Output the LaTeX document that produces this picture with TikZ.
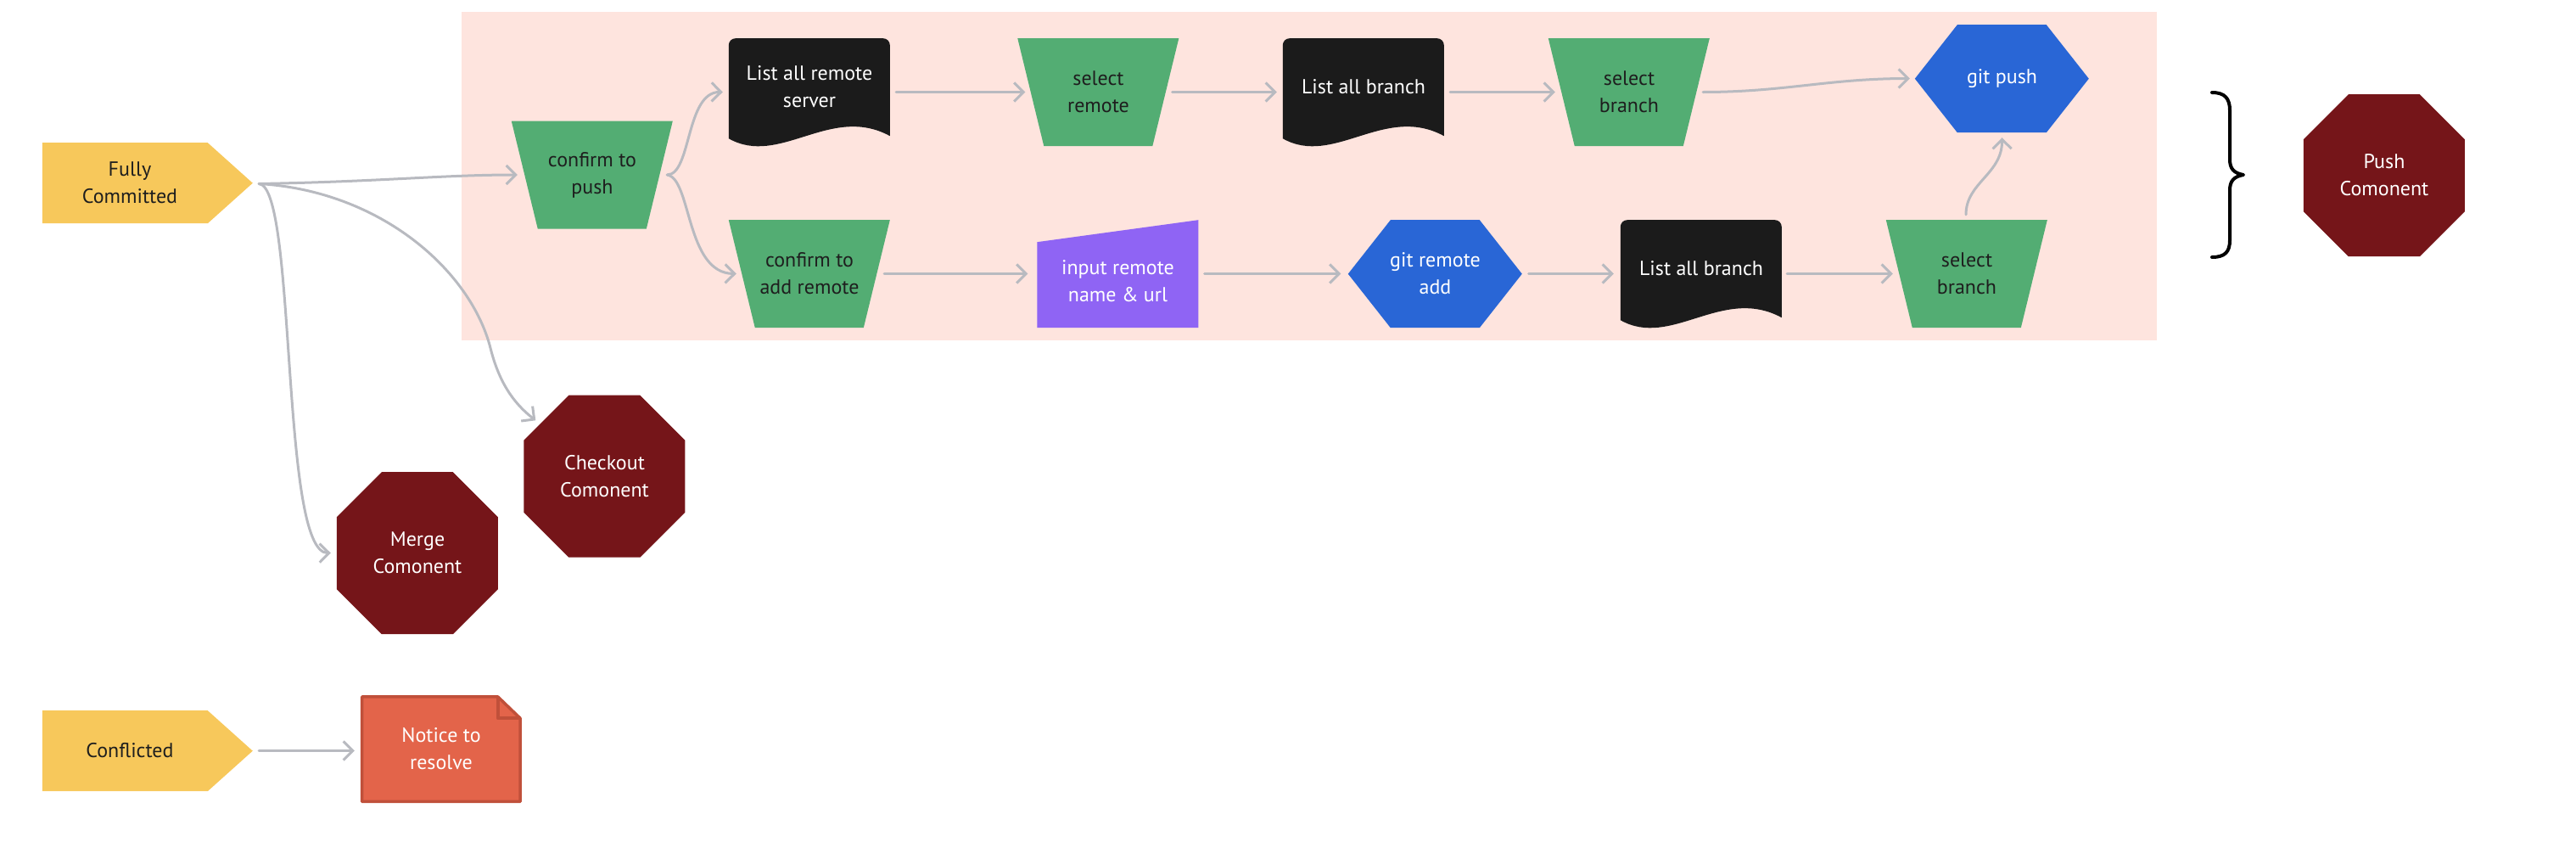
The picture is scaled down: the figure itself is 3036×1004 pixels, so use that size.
\documentclass[tikz,border=0pt]{standalone}
\usepackage{fontspec}
\setmainfont{PT Sans}
\usetikzlibrary{arrows.meta,backgrounds}
\definecolor{cyellow}{HTML}{F7C85B}
\definecolor{cgreen}{HTML}{53AD73}
\definecolor{cblack}{HTML}{1B1B1B}
\definecolor{cblue}{HTML}{2966D6}
\definecolor{cpurple}{HTML}{8F64F4}
\definecolor{cred}{HTML}{751519}
\definecolor{corange}{HTML}{E3644A}
\definecolor{corangeb}{HTML}{C0503A}
\definecolor{cpink}{HTML}{FEE4DE}
\definecolor{cgray}{HTML}{B8BAC0}
\definecolor{ctext}{HTML}{1E1E1E}
\tikzset{
  base/.style={inner sep=0pt, align=center, font=\fontsize{24}{32}\selectfont},
  pentbox/.style={base, text=ctext, minimum width=290pt, minimum height=95pt},
  trapbox/.style={base, text=ctext, minimum width=190pt, minimum height=127pt},
  docbox/.style={base, text=white, minimum width=190pt, minimum height=139pt},
  hexbox/.style={base, text=white, minimum width=205pt, minimum height=127pt},
  octbox/.style={base, text=white, minimum width=190pt, minimum height=191pt},
  inbox/.style={base, text=white, minimum width=190pt, minimum height=144pt},
  notebox/.style={base, text=white, minimum width=190pt, minimum height=127pt},
  pentshape/.pic={\begin{scope}[x=1pt,y=1pt]
      \fill[cyellow] (42,0) -- (237,0) -- (290,47.5) -- (237,95) -- (42,95) -- cycle;
    \end{scope}},
  trapshape/.pic={\begin{scope}[x=1pt,y=1pt]
      \fill[cgreen] (0,127) -- (190,127) -- (159,0) -- (31,0) -- cycle;
    \end{scope}},
  docshape/.pic={\begin{scope}[x=1pt,y=1pt]
      \fill[cblack] (0,9) -- (0,119) arc[start angle=180,end angle=90,radius=8]
        -- (182,127) arc[start angle=90,end angle=0,radius=8] -- (190,12)
        .. controls (120,50) and (60,-25) .. (0,9) -- cycle;
    \end{scope}},
  hexshape/.pic={\begin{scope}[x=1pt,y=1pt]
      \fill[cblue] (0,63.5) -- (50,127) -- (155,127) -- (205,63.5) -- (155,0) -- (50,0) -- cycle;
    \end{scope}},
  octshape/.pic={\begin{scope}[x=1pt,y=1pt]
      \fill[cred] (53,191) -- (137,191) -- (190,138) -- (190,53) -- (137,0) -- (53,0) -- (0,53) -- (0,138) -- cycle;
    \end{scope}},
  inshape/.pic={\begin{scope}[x=1pt,y=1pt]
      \fill[cpurple] (0,17) -- (0,118) -- (190,144) -- (190,17) -- cycle;
    \end{scope}},
  noteshape/.pic={\begin{scope}[x=1pt,y=1pt]
      \filldraw[fill=corange, draw=corangeb, line width=3.5pt, line join=round]
        (1.75,1.75) -- (1.75,125.25) -- (162,125.25) -- (188.25,100) -- (188.25,1.75) -- cycle;
      \draw[corangeb, line width=3.5pt, line join=round] (162,125.25) -- (162,100) -- (188.25,100);
    \end{scope}},
  conn/.style={draw=cgray, line width=3pt, line cap=round,
    -{Straight Barb[length=11pt,width=22pt]}},
}
\begin{document}
\begin{tikzpicture}[x=1pt,y=-1pt]
\useasboundingbox (0,0) rectangle (3036,1004);

% nodes
\node[pentbox] (fc) at (153,215.5) {Fully\\Committed};
\node[pentbox] (cf) at (153,884.5) {Conflicted};
\node[trapbox] (cp) at (698,206) {confirm to\\push};
\node[docbox] (lras) at (954,102.5) {List all remote\\server};
\node[trapbox] (car) at (954,322.5) {confirm to\\add remote};
\node[trapbox] (sr) at (1294.5,108.5) {select\\remote};
\node[docbox] (lab1) at (1607,102.5) {List all branch};
\node[trapbox] (sb1) at (1920,108.5) {select\\branch};
\node[hexbox] (gp) at (2359.5,92.5) {git push};
\node[inbox] (iru) at (1317.5,331) {input remote\\name \& url};
\node[hexbox] (gra) at (1691.5,322.5) {git remote\\add};
\node[docbox] (lab2) at (2005,316.5) {List all branch};
\node[trapbox] (sb2) at (2318,322.5) {select\\branch};
\node[octbox] (pc) at (2810,206.5) {Push\\Comonent};
\node[octbox] (mc) at (492,651.5) {Merge\\Comonent};
\node[octbox] (chk) at (712.5,561) {Checkout\\Comonent};
\node[notebox] (ntr) at (520,882.5) {Notice to\\resolve};

% shapes behind the texts
\begin{scope}[on background layer]
\fill[cpink] (544,14) rectangle (2542,401);
\pic at (fc.south west) {pentshape};
\pic at (cf.south west) {pentshape};
\pic at (cp.south west) {trapshape};
\pic at (car.south west) {trapshape};
\pic at (sr.south west) {trapshape};
\pic at (sb1.south west) {trapshape};
\pic at (sb2.south west) {trapshape};
\pic at (lras.south west) {docshape};
\pic at (lab1.south west) {docshape};
\pic at (lab2.south west) {docshape};
\pic at (gp.south west) {hexshape};
\pic at (gra.south west) {hexshape};
\pic at (iru.south west) {inshape};
\pic at (pc.south west) {octshape};
\pic at (mc.south west) {octshape};
\pic at (chk.south west) {octshape};
\pic at (ntr.south west) {noteshape};
\end{scope}

% brace
\draw[line width=4pt, line cap=round, line join=round]
  (2607,109) .. controls (2622,109) and (2628,116) .. (2628,130) -- (2628,188)
  .. controls (2628,199) and (2633,204) .. (2644,206)
  .. controls (2633,208) and (2628,213) .. (2628,224) -- (2628,283)
  .. controls (2628,297) and (2622,303) .. (2607,303);

% connectors
\draw[conn] ([shift={(7,1)}]fc.east) .. controls (450,214) and (520,206) .. ([shift={(7,0)}]cp.west);
\draw[conn] ([shift={(7,1)}]fc.east) .. controls (350,220) and (330,652) .. ([shift={(-7,0)}]mc.west);
\draw[conn] ([shift={(7,1)}]fc.east) .. controls (450,225) and (555,320) .. (578,410)
  .. controls (588,450) and (605,475) .. ([shift={(14,30)}]chk.north west);
\draw[conn] ([shift={(-7,0)}]cp.east) .. controls (815,206) and (808,108) .. ([shift={(-7,6)}]lras.west);
\draw[conn] ([shift={(-7,0)}]cp.east) .. controls (815,210) and (808,322) .. ([shift={(9,0)}]car.west);
\draw[conn] ([shift={(7,6)}]lras.east) -- ([shift={(9,0)}]sr.west);
\draw[conn] ([shift={(-8,0)}]sr.east) -- ([shift={(-7,6)}]lab1.west);
\draw[conn] ([shift={(7,6)}]lab1.east) -- ([shift={(8,0)}]sb1.west);
\draw[conn] ([shift={(-8,0)}]sb1.east) to[out=0,in=180] ([shift={(-6,0)}]gp.west);
\draw[conn] ([shift={(-7,0)}]car.east) -- ([shift={(-11,-8.5)}]iru.west);
\draw[conn] ([shift={(7,-8.5)}]iru.east) -- ([shift={(-8.5,0)}]gra.west);
\draw[conn] ([shift={(7.5,0)}]gra.east) -- ([shift={(-8,6)}]lab2.west);
\draw[conn] ([shift={(6,6)}]lab2.east) -- ([shift={(8,0)}]sb2.west);
\draw[conn] ([shift={(-1,-6)}]sb2.north) .. controls (2317,215) and (2360,205) .. ([shift={(0,6)}]gp.south);
\draw[conn] ([shift={(7,0)}]cf.east) -- ([shift={(-7,2)}]ntr.west);
\end{tikzpicture}
\end{document}
